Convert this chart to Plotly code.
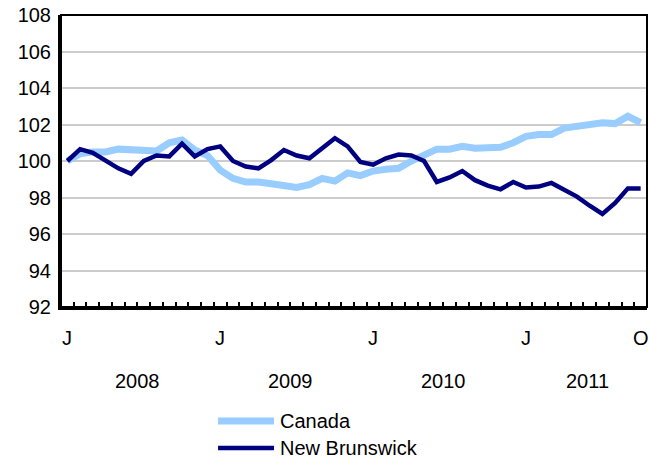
import plotly.graph_objects as go

months = list(range(46))  # Jan 2008 .. Oct 2011
month_tick_pos = [0, 12, 24, 36, 45]
month_tick_text = ["J", "J", "J", "J", "O"]
year_labels = ["2008", "2009", "2010", "2011"]
year_centers = [5.5, 17.5, 29.5, 40.8]
series_names = ["Canada", "New Brunswick"]
series_colors = ["#99CCFF", "#000080"]
series_widths = [7, 4.5]

canada = [100.0, 100.4, 100.5, 100.5, 100.65, 100.6, 100.55, 100.55, 101.0, 101.15,
          100.6, 100.3, 99.5, 99.05, 98.85, 98.85, 98.75, 98.65, 98.55, 98.7,
          99.05, 98.9, 99.35, 99.2, 99.45, 99.55, 99.6, 100.0, 100.3, 100.65,
          100.65, 100.8, 100.7, 100.7, 100.75, 101.0, 101.35, 101.45, 101.45, 101.8,
          101.9, 102.05, 102.1, 102.05, 102.45, 102.1]
new_brunswick = [100.0, 100.65, 100.45, 100.0, 99.6, 99.3, 100.0, 100.3, 100.25, 100.95,
                 100.25, 100.65, 100.8, 100.0, 99.7, 99.6, 100.05, 100.6, 100.3, 100.15,
                 100.7, 101.25, 100.8, 99.95, 99.8, 100.15, 100.35, 100.3, 100.0, 98.85,
                 99.1, 99.45, 98.95, 98.65, 98.45, 98.85, 98.55, 98.6, 98.8, 98.45,
                 98.05, 97.55, 97.1, 97.7, 98.5, 98.5]
y_ticks = [92, 94, 96, 98, 100, 102, 104, 106, 108]

FONT = "Liberation Sans, Arial, sans-serif"

fig = go.Figure()
for name, vals, col, w in zip(series_names, [canada, new_brunswick], series_colors, series_widths):
    fig.add_trace(go.Scatter(x=months, y=vals, mode="lines", name=name,
                             line=dict(color=col, width=w), showlegend=False))

for pos, lab in zip(month_tick_pos, month_tick_text):
    fig.add_annotation(x=pos, xref="x", y=0, yref="paper", text=lab, showarrow=False,
                       yanchor="middle", yshift=-31, font=dict(size=20, color="black", family=FONT))
for lab, c in zip(year_labels, year_centers):
    fig.add_annotation(x=c, xref="x", y=0, yref="paper", text=lab, showarrow=False,
                       yanchor="middle", yshift=-74, font=dict(size=20, color="black", family=FONT))

# legend (swatch + label), positioned below the plot area
legend_rows = [-0.390, -0.483]
for name, col, w, ly in zip(series_names, series_colors, series_widths, legend_rows):
    fig.add_shape(type="line", xref="paper", yref="paper", x0=0.268, x1=0.3635, y0=ly, y1=ly,
                  line=dict(color=col, width=w))
    fig.add_annotation(x=0.3703, xref="paper", y=ly, yref="paper", text=name, showarrow=False,
                       xanchor="left", yanchor="middle",
                       font=dict(size=20, color="black", family=FONT))

fig.add_shape(type="rect", xref="paper", yref="paper", x0=0, x1=1, y0=0, y1=1,
              line=dict(color="black", width=2), layer="above")

fig.update_layout(
    width=649, height=462,
    margin=dict(l=61, r=2, t=15, b=155, autoexpand=False),
    paper_bgcolor="white", plot_bgcolor="white",
    font=dict(family=FONT, size=20, color="black"),
    showlegend=False,
    xaxis=dict(range=[-0.5, 45.5], showticklabels=False, ticks="", showgrid=False,
               zeroline=False, automargin=False,
               showline=True, linecolor="black", linewidth=3,
               minor=dict(tick0=-0.5, dtick=1, ticks="inside", ticklen=5,
                          tickcolor="black", tickwidth=1.5, showgrid=False)),
    yaxis=dict(range=[92, 108], tickmode="array", tickvals=y_ticks, ticks="",
               showgrid=True, gridcolor="#CCCCCC", gridwidth=2, zeroline=False,
               automargin=False, tickfont=dict(size=20),
               showline=True, linecolor="black", linewidth=3, ticklabelstandoff=3),
)

fig.write_html("out.html", config={"displayModeBar": False},
               post_script="document.body.style.margin='0px';document.body.style.overflow='hidden';")
